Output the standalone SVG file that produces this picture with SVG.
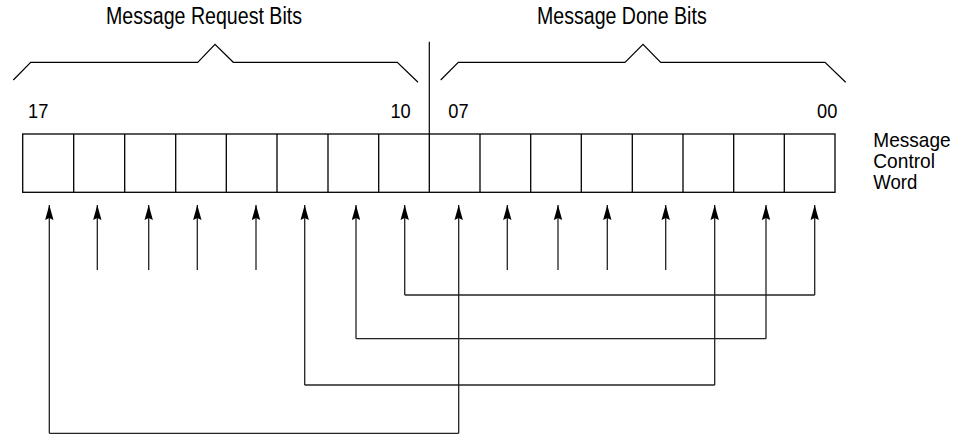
<svg xmlns="http://www.w3.org/2000/svg" width="968" height="436" viewBox="0 0 968 436">
<style>
text{font-family:"Liberation Sans",Arial,sans-serif;fill:#000}
.t{font-size:23px}
.d{font-size:20px}
.w{font-size:21px}
.ln{fill:none;stroke:#000;stroke-width:1.2}
.bx{fill:none;stroke:#000;stroke-width:1.3}
.ar{fill:none;stroke:#222;stroke-width:1.3}
</style>
<defs>
<marker id="ah" markerWidth="16" markerHeight="9" refX="15" refY="4.5" orient="auto" markerUnits="userSpaceOnUse" viewBox="0 0 16 9">
<path d="M15 4.5 L0 0.3 L2 4.5 L0 8.7 Z" fill="#000"/>
</marker>
</defs>
<rect width="968" height="436" fill="#fff"/>

<g id="request-bits">
<text class="t" x="106" y="24" textLength="196" lengthAdjust="spacingAndGlyphs">Message Request Bits</text>
<path class="ln" d="M13.3 80 L30.7 62.3 L197.7 62.3 L215 44.3 L233.3 62.3 L397.3 62.3 L418 82.3"/>
<text class="d" x="28" y="118.3" textLength="20.3" lengthAdjust="spacingAndGlyphs">17</text>
<text class="d" x="390.4" y="118.3" textLength="20.3" lengthAdjust="spacingAndGlyphs">10</text>
</g>

<g id="done-bits">
<text class="t" x="537" y="24" textLength="169.7" lengthAdjust="spacingAndGlyphs">Message Done Bits</text>
<path class="ln" d="M440.7 80 L458.3 62.3 L625 62.3 L643 44.3 L660.7 62.3 L825 62.3 L845.7 82.3"/>
<text class="d" x="448.3" y="118.3" textLength="20.3" lengthAdjust="spacingAndGlyphs">07</text>
<text class="d" x="817" y="118.3" textLength="20.3" lengthAdjust="spacingAndGlyphs">00</text>
</g>

<g id="divider">
<line class="ln" x1="429.3" y1="41.7" x2="429.3" y2="134"/>
</g>

<g id="control-word">
<rect class="bx" x="22.7" y="134" width="812.3" height="58.3"/>
<path class="bx" d="M73.7 134V192.3M124.7 134V192.3M175.7 134V192.3M226.3 134V192.3M277 134V192.3M328 134V192.3M378.7 134V192.3M429.3 134V192.3M480 134V192.3M530.7 134V192.3M581.3 134V192.3M632.3 134V192.3M683 134V192.3M733.7 134V192.3M784.3 134V192.3"/>
</g>

<g id="control-word-label">
<text class="w" x="873.3" y="147.3" textLength="77.3" lengthAdjust="spacingAndGlyphs">Message</text>
<text class="w" x="873.3" y="168.3" textLength="61.7" lengthAdjust="spacingAndGlyphs">Control</text>
<text class="w" x="873.3" y="189.3" textLength="44" lengthAdjust="spacingAndGlyphs">Word</text>
</g>

<g id="connectors">
<path class="ar" marker-end="url(#ah)" d="M97.3 270V205"/>
<path class="ar" marker-end="url(#ah)" d="M148.7 270V205"/>
<path class="ar" marker-end="url(#ah)" d="M197.3 270V205"/>
<path class="ar" marker-end="url(#ah)" d="M256 270V205"/>
<path class="ar" marker-end="url(#ah)" d="M507.3 270V205"/>
<path class="ar" marker-end="url(#ah)" d="M558 270V205"/>
<path class="ar" marker-end="url(#ah)" d="M607.3 270V205"/>
<path class="ar" marker-end="url(#ah)" d="M665.7 270V205"/>

<path class="ar" d="M404.7 295H814.7"/>
<path class="ar" marker-end="url(#ah)" d="M404.7 295V205"/>
<path class="ar" marker-end="url(#ah)" d="M814.7 295V205"/>

<path class="ar" d="M356 338.7H766"/>
<path class="ar" marker-end="url(#ah)" d="M356 338.7V205"/>
<path class="ar" marker-end="url(#ah)" d="M766 338.7V205"/>

<path class="ar" d="M304.7 385H714.7"/>
<path class="ar" marker-end="url(#ah)" d="M304.7 385V205"/>
<path class="ar" marker-end="url(#ah)" d="M714.7 385V205"/>

<path class="ar" d="M49.3 433.3H458.7"/>
<path class="ar" marker-end="url(#ah)" d="M49.3 433.3V205"/>
<path class="ar" marker-end="url(#ah)" d="M458.7 433.3V205"/>
</g>
</svg>
